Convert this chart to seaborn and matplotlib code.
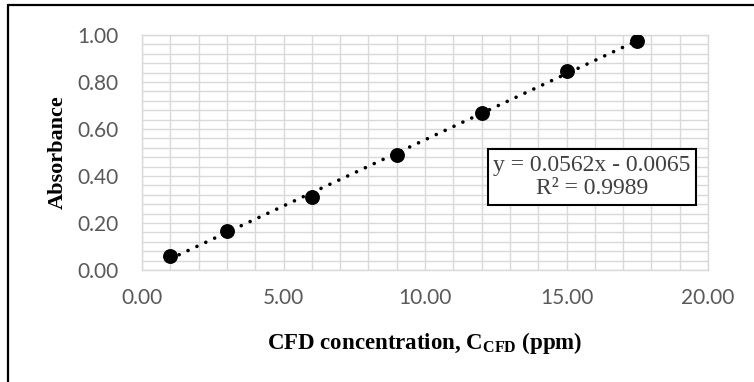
import matplotlib
matplotlib.use("Agg")
import matplotlib.pyplot as plt
from matplotlib.lines import Line2D
from matplotlib.ticker import MultipleLocator, FormatStrFormatter
import seaborn as sns
import pandas as pd

# Data
concentration = [1.0, 3.0, 6.0, 9.0, 12.0, 15.0, 17.5]
absorbance = [0.058, 0.167, 0.309, 0.488, 0.667, 0.848, 0.975]
x_ticks = [0.0, 5.0, 10.0, 15.0, 20.0]
y_ticks = [0.0, 0.2, 0.4, 0.6, 0.8, 1.0]
equation_text = "y = 0.0562x - 0.0065\nR² = 0.9989"
x_label = r"CFD concentration, C$_{\mathbf{CFD}}$ (ppm)"
y_label = "Absorbance"

df = pd.DataFrame({"conc": concentration, "abs": absorbance})

sns.set_theme(style="white")
plt.rcParams["font.family"] = ["Lato", "DejaVu Sans"]
plt.rcParams["mathtext.fontset"] = "custom"
plt.rcParams["mathtext.rm"] = "Liberation Serif"
plt.rcParams["mathtext.bf"] = "Liberation Serif:bold"

fig = plt.figure(figsize=(7.54, 3.82), dpi=100)
ax = fig.add_axes([142 / 754, 1 - 270 / 382, (708 - 142) / 754, (270 - 35) / 382])

grid_c = "#d9d9d9"
ax.set_xlim(0, 20)
ax.set_ylim(0, 1.0)
ax.xaxis.set_major_locator(MultipleLocator(5))
ax.xaxis.set_minor_locator(MultipleLocator(1))
ax.yaxis.set_major_locator(MultipleLocator(0.2))
ax.yaxis.set_minor_locator(MultipleLocator(0.04))
ax.grid(True, which="both", color=grid_c, linewidth=1.0)
ax.set_axisbelow(True)
for s in ax.spines.values():
    s.set_color(grid_c)
    s.set_linewidth(1.0)

sns.regplot(data=df, x="conc", y="abs", ax=ax, scatter=False, ci=None, truncate=True,
            line_kws=dict(color="black", linewidth=2.6, linestyle=(0, (0.01, 2.7)),
                          dash_capstyle="round", solid_capstyle="round"))
sns.scatterplot(data=df, x="conc", y="abs", ax=ax, s=115, color="black",
                edgecolor="black", linewidth=0, zorder=5)

ax.set_xticks(x_ticks)
ax.set_yticks(y_ticks)
ax.xaxis.set_major_formatter(FormatStrFormatter("%.2f"))
ax.yaxis.set_major_formatter(FormatStrFormatter("%.2f"))
ax.tick_params(axis="both", which="both", length=0, labelsize=15, labelcolor="#595959")
ax.tick_params(axis="y", pad=17)
ax.tick_params(axis="x", pad=13)

ax.set_xlabel(x_label, fontfamily="Liberation Serif", fontweight="bold", fontsize=16.5,
              color="black", labelpad=16)
ax.set_ylabel(y_label, fontfamily="Liberation Serif", fontweight="bold", fontsize=16,
              color="black", labelpad=6.5)

ax.text(592 / 754, 1 - 177 / 382, equation_text, transform=fig.transFigure,
        ha="center", va="center", fontfamily="Liberation Serif", fontsize=17,
        color="#404040", linespacing=1.12, zorder=6,
        bbox=dict(boxstyle="square,pad=0.24", facecolor="white", edgecolor="black", linewidth=1.5))

fig.add_artist(Line2D([8 / 754, 8 / 754], [0, 1 - 5 / 382], color="black", linewidth=1.6,
                      transform=fig.transFigure))
fig.add_artist(Line2D([8 / 754, 1], [1 - 5 / 382, 1 - 5 / 382], color="black", linewidth=1.6,
                      transform=fig.transFigure))

fig.savefig("out.png", dpi=100, facecolor="white")
